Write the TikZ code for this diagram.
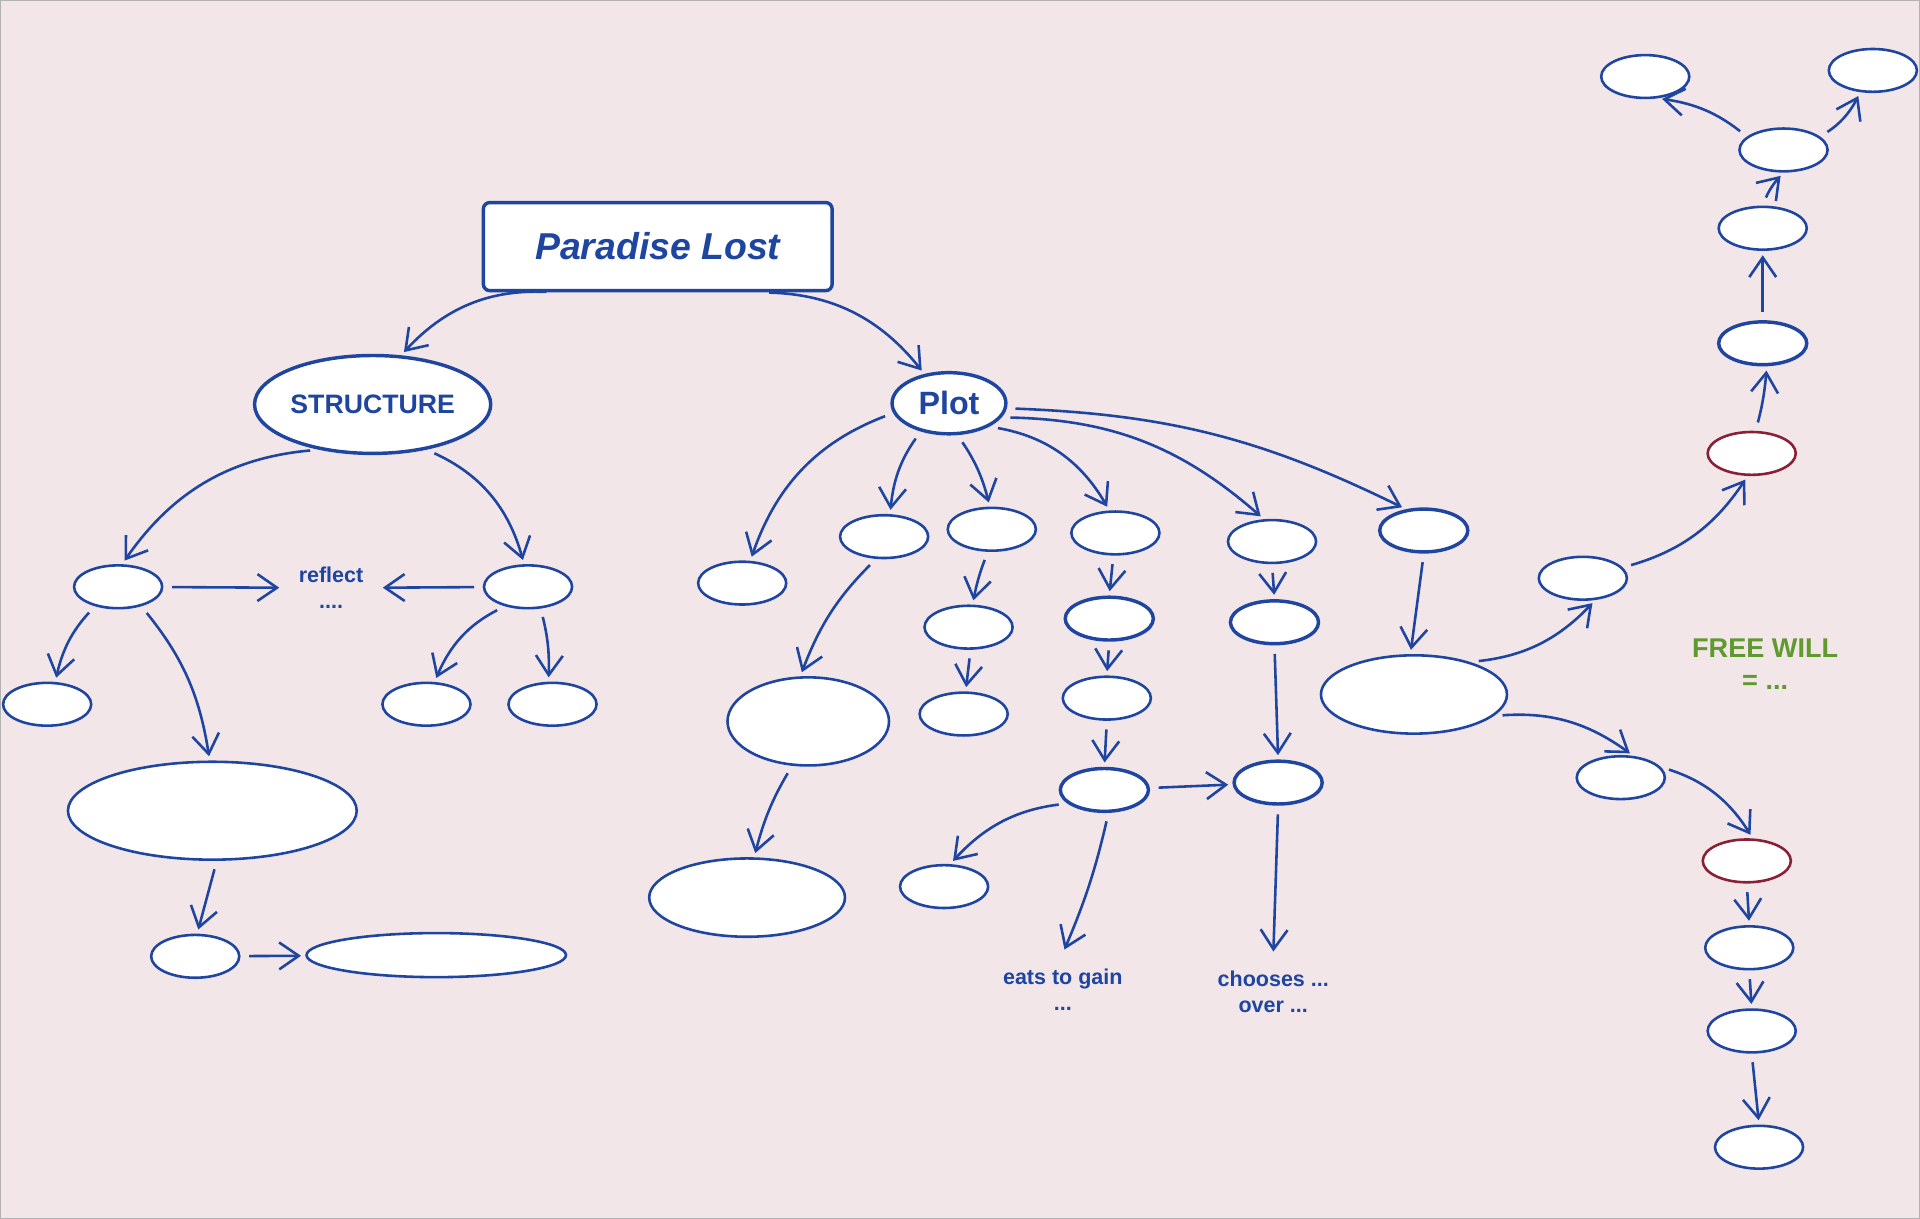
\documentclass[tikz,border=0pt]{standalone}
\usepackage{fontspec}
\setmainfont{Liberation Sans}
\usetikzlibrary{shapes.geometric,arrows.meta}
\definecolor{inkblue}{HTML}{1E45A0}
\definecolor{wine}{HTML}{8A2035}
\definecolor{paper}{HTML}{F3E6E9}
\definecolor{willgreen}{HTML}{5E9A2E}

\begin{document}
\begin{tikzpicture}[x=0.1mm,y=-0.1mm,
		el/.style 2 args={ellipse,draw=inkblue,fill=white,line width=0.6pt,inner sep=0pt,
			minimum width=#1*0.1mm,minimum height=#2*0.1mm},
		sm/.style={el={72}{35}},
		lbl/.style={text=inkblue,font=\bfseries\fontsize{5}{6}\selectfont,align=center},
		every edge/.style={draw=inkblue,line width=0.6pt,-{Straight Barb[length=1.6mm,width=2.2mm]},
			shorten <=2pt,shorten >=1pt}]
		\fill[paper] (0,0) rectangle (1568,995);
		\draw[gray!60,line width=0.3pt] (0,0) rectangle (1568,995);
		
		\node[draw=inkblue,fill=white,line width=0.8pt,rounded corners=1.5pt,minimum width=28.5mm,minimum height=7.2mm,
			text=inkblue,font=\bfseries\itshape\fontsize{8.7}{10}\selectfont] (title) at (537,201) {Paradise Lost};
		
		% structure side
		\node[el={193}{80},line width=0.8pt,text=inkblue,font=\bfseries\fontsize{6.2}{7}\selectfont] (struct) at (304,330) {STRUCTURE};
		\node[sm] (s1) at (96,479) {};
		\node[sm] (s2) at (431,479) {};
		\node[lbl] (reflect) at (270,480) {reflect\\....};
		\node[sm] (s11) at (38,575) {};
		\node[el={236}{80}] (s12) at (173,662) {};
		\node[sm] (s121) at (159,781) {};
		\node[el={212}{36}] (s122) at (356,780) {};
		\node[sm] (s21) at (348,575) {};
		\node[sm] (s22) at (451,575) {};
		
		% plot side
		\node[el={93}{50},line width=0.8pt,text=inkblue,font=\bfseries\fontsize{7.5}{9}\selectfont] (plot) at (775,329) {Plot};
		\node[sm] (p1) at (606,476) {};
		\node[sm] (p2) at (722,438) {};
		\node[el={132}{72}] (p21) at (660,589) {};
		\node[el={160}{64}] (p211) at (610,733) {};
		\node[sm] (p3) at (810,432) {};
		\node[sm] (p31) at (791,512) {};
		\node[sm] (p32) at (787,583) {};
		\node[sm] (p4) at (911,435) {};
		\node[sm,line width=0.8pt] (p41) at (906,505) {};
		\node[sm] (p42) at (904,570) {};
		\node[sm,line width=0.8pt] (p43) at (902,645) {};
		\node[sm] (p431) at (771,724) {};
		\node[lbl] (eats) at (868,808) {eats to gain\\...};
		\node[sm] (p5) at (1039,442) {};
		\node[sm,line width=0.8pt] (p51) at (1041,508) {};
		\node[sm,line width=0.8pt] (p52) at (1044,639) {};
		\node[lbl] (choose) at (1040,810) {chooses ...\\over ...};
		\node[sm,line width=0.8pt] (p6) at (1163,433) {};
		\node[el={152}{64}] (p61) at (1155,567) {};
		
		% free will branch
		\node[sm] (u1) at (1293,472) {};
		\node[sm,draw=wine] (r1) at (1431,370) {};
		\node[sm,line width=0.8pt] (u2) at (1440,280) {};
		\node[sm] (u3) at (1440,186) {};
		\node[sm] (u4) at (1457,122) {};
		\node[sm] (u5) at (1344,62) {};
		\node[sm] (u6) at (1530,57) {};
		\node[sm] (d1) at (1324,635) {};
		\node[sm,draw=wine] (r2) at (1427,703) {};
		\node[sm] (d2) at (1429,774) {};
		\node[sm] (d3) at (1431,842) {};
		\node[sm] (d4) at (1437,937) {};
		\node[text=willgreen,font=\bfseries\fontsize{6.3}{7.5}\selectfont,align=center] (will) at (1442,542) {FREE WILL\\= ...};
		
		\draw (title.204) edge[bend right=25] (struct.60);
		\draw (title.-24) edge[bend left=25] (plot.130);
		\draw (struct.220) edge[bend right=25] (s1.80);
		\draw (struct.-40) edge[bend left=25] (s2.100);
		\draw (s1) edge (reflect);
		\draw (s2) edge (reflect);
		\draw (s1.220) edge[bend right=15] (s11.70);
		\draw (s1.-40) edge[bend left=15] (s12.93);
		\draw (s2.220) edge[bend right=20] (s21.70);
		\draw (s2.-60) edge[bend left=8] (s22.100);
		\draw (s12.-85) edge (s121.85);
		\draw (s121) edge (s122);
		
		\draw (plot.190) edge[bend right=25] (p1.70);
		\draw (plot.225) edge[bend right=15] (p2.75);
		\draw (p2.-110) edge[bend right=12] (p21.100);
		\draw (p21.-110) edge[bend right=8] (p211.80);
		\draw (plot.-75) edge[bend left=10] (p3.95);
		\draw (p3.-100) edge[bend right=5] (p31.80);
		\draw (p31.-85) edge (p32.85);
		\draw (plot.-30) edge[bend left=25] (p4.105);
		\draw (p4.-95) edge (p41.90);
		\draw (p41.-90) edge (p42.90);
		\draw (p42.-90) edge (p43.90);
		\draw (p43.200) edge[bend right=20] (p431.75);
		\draw (p43.-80) edge[bend left=5] (eats.north);
		\draw (p43) edge (p52);
		\draw (plot.-15) edge[bend left=20] (p5.110);
		\draw (p5.-90) edge (p51.90);
		\draw (p51.-90) edge (p52.90);
		\draw (p52.-90) edge (choose.north);
		\draw (plot.-5) edge[bend left=12] (p6.130);
		\draw (p6.-90) edge (p61.95);
		
		\draw (p61.30) edge[bend right=20] (u1.-60);
		\draw (u1.15) edge[bend right=20] (r1.-100);
		\draw (r1.80) edge[bend right=5] (u2.-80);
		\draw (u2.90) edge (u3.-90);
		\draw (u3.90) edge[bend left=10] (u4.-90);
		\draw (u4.160) edge[bend right=15] (u5.-60);
		\draw (u4.20) edge[bend right=15] (u6.-120);
		\draw (p61.-15) edge[bend left=20] (d1.60);
		\draw (d1.15) edge[bend left=20] (r2.75);
		\draw (r2.-90) edge (d2.90);
		\draw (d2.-90) edge (d3.90);
		\draw (d3.-90) edge (d4.90);
\end{tikzpicture}
\end{document}
